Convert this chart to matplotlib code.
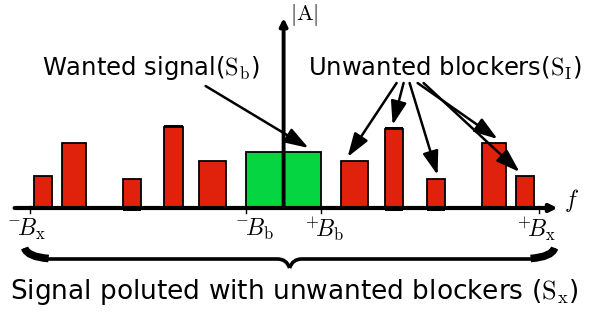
import numpy as np
import matplotlib
matplotlib.use("Agg")
import matplotlib.pyplot as plt
from matplotlib.patches import Rectangle, PathPatch, FancyArrowPatch
from matplotlib.path import Path

plt.rcParams['mathtext.fontset'] = 'cm'
plt.rcParams['font.family'] = ['DejaVu Sans']

# 频谱数据（中心频率，带宽，幅度）
centers = [-241, -210, -152, -110, -71, 0, 71, 110, 152, 210, 241]
widths = [18, 24, 18, 19, 27, 75, 27, 18, 18, 24, 18]
heights = [32, 65, 29, 81, 47, 56, 47, 79, 29, 65, 32]
is_wanted = [False] * 5 + [True] + [False] * 5
thick_top = [3, 7]          # 顶部加粗的柱子
thick_bottom = [2, 7, 8]    # 底部加粗的柱子

tick_pos = [-254, -38, 37, 255]
tick_labels = [r'$^{-}\!B_{\mathrm{x}}$', r'$^{-}\!B_{\mathrm{b}}$',
               r'$^{+}\!B_{\mathrm{b}}$', r'$^{+}\!B_{\mathrm{x}}$']
label_x = [-257, -29, 41, 253]

# 箭头目标（哪些干扰信号被指向）
blocker_targets = [6, 7, 8, 9, 10]

RED = '#e0220c'
GREEN = '#05d540'

fig = plt.figure(figsize=(5.91, 3.12), dpi=100)
ax = fig.add_axes([0, 0, 1, 1])
ax.set_xlim(-283.6, 307.4)
ax.set_ylim(-104, 208)
ax.axis('off')

# 柱子
for i, (c, w, h) in enumerate(zip(centers, widths, heights)):
    color = GREEN if is_wanted[i] else RED
    ax.add_patch(Rectangle((c - w / 2, 0), w, h, facecolor=color,
                           edgecolor='black', lw=1.3, zorder=2))
    if i in thick_top:
        ax.add_patch(Rectangle((c - w / 2, h - 1), w, 3.5, facecolor='black',
                               edgecolor='none', zorder=3))
    if i in thick_bottom:
        ax.add_patch(Rectangle((c - w / 2, -3), w, 3, facecolor='black',
                               edgecolor='none', zorder=3))

# 坐标轴
ax.annotate('', xy=(274, 0), xytext=(-269, 0),
            arrowprops=dict(arrowstyle='-|>', lw=3, color='black',
                            mutation_scale=11, shrinkA=0, shrinkB=0), zorder=4)
ax.annotate('', xy=(0, 190), xytext=(0, 0),
            arrowprops=dict(arrowstyle='-|>', lw=2.8, color='black',
                            mutation_scale=11, shrinkA=0, shrinkB=0), zorder=4)
ax.text(288, 8, r'$f$', fontsize=17, ha='center', va='center')
ax.text(21, 193, r'$|\mathrm{A}|$', fontsize=16, ha='center', va='center')

# 刻度
for t in tick_pos:
    ax.plot([t, t], [-5, 2], color='black', lw=1, zorder=5)
for lx, lab in zip(label_x, tick_labels):
    ax.text(lx, -21, lab, fontsize=17, ha='center', va='center')

# 文本
ax.text(-133, 140, r'Wanted signal($\mathrm{S}_{\mathrm{b}}$)', fontsize=17.5,
        ha='center', va='center')
ax.text(161, 140, r'Unwanted blockers($\mathrm{S}_{\mathrm{I}}$)', fontsize=17.5,
        ha='center', va='center')
ax.text(11, -84, r'Signal poluted with unwanted blockers ($\mathrm{S}_{\mathrm{x}}$)',
        fontsize=19, ha='center', va='center')

# 指向箭头
def arrow(x0, y0, x1, y1):
    ax.add_patch(FancyArrowPatch((x0, y0), (x1, y1), arrowstyle='-|>,head_width=0.3,head_length=0.9',
                                 mutation_scale=16, lw=1.8, color='black',
                                 shrinkA=0, shrinkB=0, zorder=6))

arrow(-78, 122, 25, 60)
starts = [(113, 125), (120, 125), (126, 125), (134, 125), (140, 125)]
for (sx, sy), idx in zip(starts, blocker_targets):
    c, h = centers[idx], heights[idx]
    tx = {6: -7, 7: -1, 8: 2, 9: 4, 10: -5}[idx]
    arrow(sx, sy, c + tx, h + 4)

# 下方花括号
xl, xr, xm = -259, 271, 6
yb, yt = -51, -40
verts = [(xl, yt), (xl + 2, yb + 1), (xl + 20, yb), (xm - 12, yb),
         (xm - 3, yb), (xm, yb - 9), (xm, yb - 9), (xm, yb - 9),
         (xm + 3, yb), (xm + 12, yb), (xr - 20, yb), (xr - 2, yb + 1),
         (xr, yt)]
codes = [Path.MOVETO, Path.CURVE3, Path.CURVE3, Path.LINETO,
         Path.CURVE3, Path.CURVE3, Path.LINETO, Path.MOVETO,
         Path.CURVE3, Path.CURVE3, Path.LINETO, Path.CURVE3, Path.CURVE3]
ax.add_patch(PathPatch(Path(verts, codes), fill=False, lw=2.6,
                       capstyle='butt', joinstyle='round'))
for sgn, x0 in [(1, xl), (-1, xr)]:
    ends = [(x0, yt), (x0 + sgn * 3, yb + 2), (x0 + sgn * 24, yb + 0.5)]
    ax.add_patch(PathPatch(Path(ends, [Path.MOVETO, Path.CURVE3, Path.CURVE3]),
                           fill=False, lw=5.5, capstyle='butt'))

fig.savefig('out.png', dpi=100)
